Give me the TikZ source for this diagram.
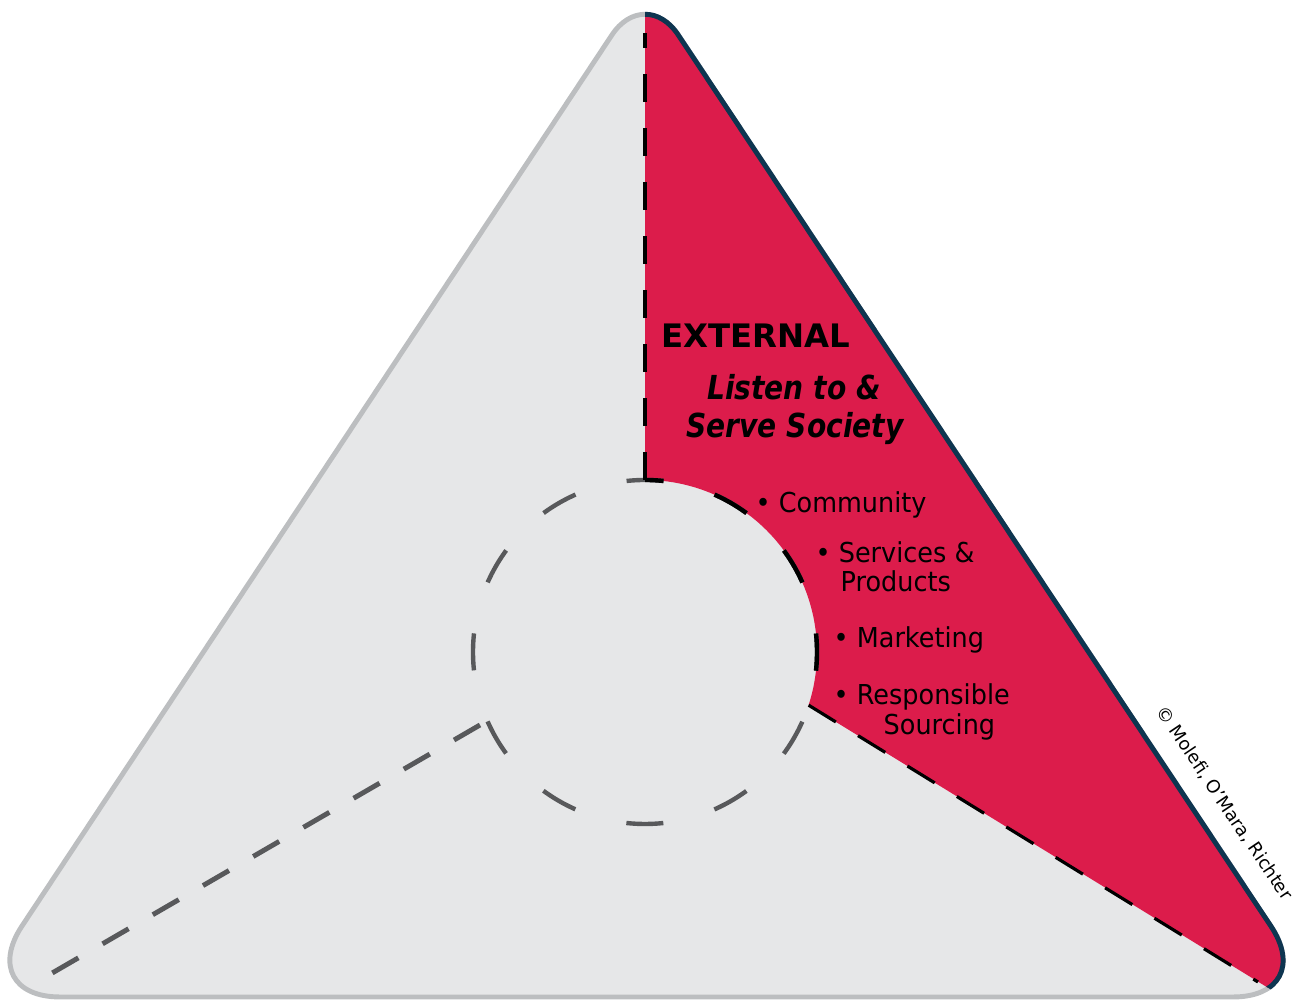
\documentclass[tikz,border=0pt]{standalone}
\usepackage{fontspec}
\setmainfont{DejaVu Sans}
\newfontfamily\mottofont[FakeStretch=0.85]{DejaVu Sans}
\newfontfamily\listfont[FakeStretch=0.93]{DejaVu Sans}
\definecolor{panelgray}{HTML}{E6E7E8}
\definecolor{rimgray}{HTML}{BCBEC0}
\definecolor{spokegray}{HTML}{58595B}
\definecolor{extred}{HTML}{DC1C4B}
\definecolor{rimnavy}{HTML}{0E3550}

\begin{document}
\begin{tikzpicture}[x=0.01cm,y=0.01cm]
	\tikzstyle{rim}=[line width=1.4pt,line join=round]
	\tikzstyle{ring}=[line width=1.25pt,dash pattern=on 0.37cm off 0.53cm,dash phase=0.185cm]
	\tikzstyle{blackspoke}=[black,line width=0.9pt]
	\tikzstyle{greyspoke}=[spokegray,line width=1.4pt,dash pattern=on 0.30cm off 0.28cm]
	\tikzstyle{heading}=[anchor=base west,inner sep=0pt,font=\fontsize{9.2pt}{11pt}\selectfont\bfseries]
	\tikzstyle{motto}=[anchor=base,inner sep=0pt,font=\fontsize{9.4pt}{11pt}\selectfont\mottofont\bfseries\itshape]
	\tikzstyle{bulletline}=[anchor=base west,inner sep=0pt,font=\fontsize{7.8pt}{9pt}\selectfont\listfont]
	\tikzstyle{credit}=[inner sep=0pt,rotate=-56,font=\fontsize{5.1pt}{6pt}\selectfont]

	\useasboundingbox (0,0) rectangle (1294,1004);

	\coordinate (apex) at (645,1019);
	\coordinate (lv) at (-25,7);
	\coordinate (rv) at (1318,7);
	\coordinate (base) at (645,7);
	\coordinate (hub) at (645,352);
	\coordinate (ring_top) at (645,524);
	\coordinate (ring_end) at (808.6,298.8);
	\coordinate (ring_left) at (480,279);
	\coordinate (rim_top) at (645,971);
	\coordinate (rim_right) at (1258,22);
	\coordinate (rim_left) at (35,21);

	% panel
	\draw[rim,rimgray,fill=panelgray] (base) [rounded corners=0.85cm] -- (rv) [rounded corners=0.6cm] -- (apex) [rounded corners=0.85cm] -- (lv) [rounded corners=0cm] -- cycle;

	% external sector
	\begin{scope}
		\clip (base) [rounded corners=0.85cm] -- (rv) [rounded corners=0.6cm] -- (apex) [rounded corners=0.85cm] -- (lv) [rounded corners=0cm] -- cycle;
		\fill[extred] (645,1100) -- (ring_top) arc[start angle=90,end angle=-18,radius=172] -- (1400,-65) -- (1400,1100) -- cycle;
	\end{scope}
	\begin{scope}
		\clip (645,1100) -- (ring_top) arc[start angle=90,end angle=-18,radius=172] -- (1400,-65) -- (1400,1100) -- cycle;
		\draw[rim,rimnavy] (base) [rounded corners=0.85cm] -- (rv) [rounded corners=0.6cm] -- (apex) [rounded corners=0.85cm] -- (lv) [rounded corners=0cm] -- cycle;
	\end{scope}

	% hub
	\draw[ring,spokegray] (hub) circle (172);
	\begin{scope}
		\clip (hub) -- (645,700) -- (1000,700) -- (1000,237) -- cycle;
		\draw[ring,black] (hub) circle (172);
	\end{scope}

	% spokes
	\draw[blackspoke,dash pattern=on 0.28cm off 0.26cm] (ring_top) -- (rim_top);
	\draw[blackspoke,dash pattern=on 0.32cm off 0.26cm] (ring_end) -- (rim_right);
	\draw[greyspoke] (ring_left) -- (rim_left);

	% texts
	\node[heading] (external) at (661,656) {EXTERNAL};
	\node[motto] (listen) at (794,604) {Listen to \&};
	\node[motto] (serve) at (795,566) {Serve Society};
	\node[bulletline] (community) at (755,491) {\textbullet\ Community};
	\node[bulletline] (services) at (815,441) {\textbullet\ Services \&};
	\node[bulletline] (products) at (840,412) {Products};
	\node[bulletline] (marketing) at (833,356) {\textbullet\ Marketing};
	\node[bulletline] (responsible) at (833,299) {\textbullet\ Responsible};
	\node[bulletline] (sourcing) at (883,269) {Sourcing};
	\node[credit] (copyright) at (1224,201) {© Molefi, O'Mara, Richter};
\end{tikzpicture}
\end{document}
